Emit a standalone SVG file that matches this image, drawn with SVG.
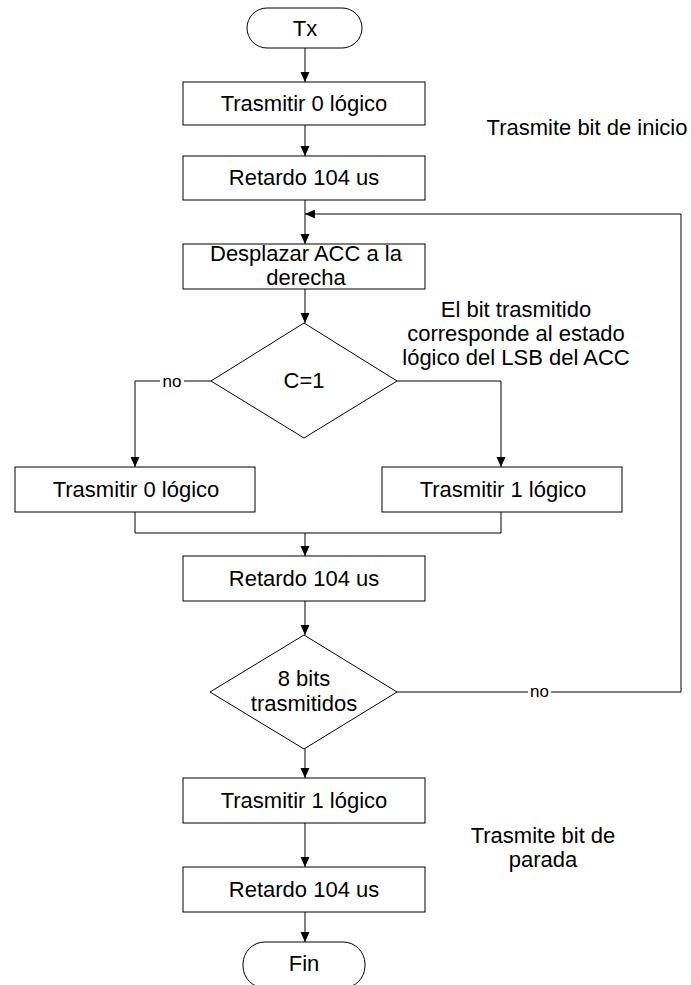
<svg xmlns="http://www.w3.org/2000/svg" width="691" height="985" viewBox="0 0 691 985">
<defs>
<style>
.n{fill:#fff;stroke:#000;stroke-width:1}
.t{font-family:"Liberation Sans",Arial,sans-serif;font-size:22px;fill:#000;text-anchor:middle}
.l{font-family:"Liberation Sans",Arial,sans-serif;font-size:17px;fill:#000;text-anchor:middle}
.c{fill:none;stroke:#000;stroke-width:1}
</style>
<marker id="ah" markerWidth="10" markerHeight="10" refX="10" refY="4.5" orient="auto" markerUnits="userSpaceOnUse">
<path d="M0,0 L10,4.5 L0,9 z" fill="#000"/>
</marker>
</defs>
<rect width="691" height="985" fill="#fff"/>
<g id="connectors">
<line class="c" x1="305" y1="48" x2="305" y2="82" marker-end="url(#ah)"/>
<line class="c" x1="305" y1="125" x2="305" y2="156" marker-end="url(#ah)"/>
<line class="c" x1="305" y1="200" x2="305" y2="244" marker-end="url(#ah)"/>
<line class="c" x1="305" y1="289" x2="305" y2="323" marker-end="url(#ah)"/>
<path class="c" d="M211,381 H135 V467" marker-end="url(#ah)"/>
<path class="c" d="M397,381 H501 V467" marker-end="url(#ah)"/>
<path class="c" d="M135,512 V533 H501 V512"/>
<line class="c" x1="305" y1="533" x2="305" y2="556" marker-end="url(#ah)"/>
<line class="c" x1="305" y1="601" x2="305" y2="635" marker-end="url(#ah)"/>
<path class="c" d="M397,692 H681 V214 H305" marker-end="url(#ah)"/>
<line class="c" x1="305" y1="749" x2="305" y2="778" marker-end="url(#ah)"/>
<line class="c" x1="305" y1="823" x2="305" y2="867" marker-end="url(#ah)"/>
<line class="c" x1="305" y1="912" x2="305" y2="942" marker-end="url(#ah)"/>
<rect x="160" y="372" width="24" height="18" fill="#fff"/>
<text class="l" x="172" y="387">no</text>
<rect x="528" y="683" width="23" height="18" fill="#fff"/>
<text class="l" x="539.5" y="697">no</text>
</g>
<g id="tx"><rect class="n" x="247" y="8" width="115" height="40" rx="20"/><text class="t" x="305" y="36">Tx</text></g>
<g id="b1"><rect class="n" x="183" y="82" width="242" height="43"/><text class="t" x="304" y="111">Trasmitir 0 lógico</text></g>
<g id="b2"><rect class="n" x="183" y="156" width="242" height="44"/><text class="t" x="304" y="185">Retardo 104 us</text></g>
<g id="b3"><rect class="n" x="183" y="244" width="242" height="45"/><text class="t" x="306" y="261">Desplazar ACC a la</text><text class="t" x="306" y="285">derecha</text></g>
<g id="d1"><polygon class="n" points="304,323 397,381 304,438 211,381"/><text class="t" x="304" y="388">C=1</text></g>
<g id="b4"><rect class="n" x="15" y="467" width="240" height="45"/><text class="t" x="136" y="497">Trasmitir 0 lógico</text></g>
<g id="b5"><rect class="n" x="382" y="467" width="240" height="45"/><text class="t" x="503" y="497">Trasmitir 1 lógico</text></g>
<g id="b6"><rect class="n" x="183" y="556" width="242" height="45"/><text class="t" x="304" y="586">Retardo 104 us</text></g>
<g id="d2"><polygon class="n" points="304,635 397,692 304,749 210,692"/><text class="t" x="304" y="686">8 bits</text><text class="t" x="304" y="711">trasmitidos</text></g>
<g id="b7"><rect class="n" x="183" y="778" width="242" height="45"/><text class="t" x="304" y="808">Trasmitir 1 lógico</text></g>
<g id="b8"><rect class="n" x="183" y="867" width="242" height="45"/><text class="t" x="304" y="897">Retardo 104 us</text></g>
<g id="fin"><rect class="n" x="243" y="942" width="122" height="46" rx="22"/><text class="t" x="304" y="971">Fin</text></g>
<g id="notes">
<text class="t" x="587" y="135">Trasmite bit de inicio</text>
<text class="t" x="516" y="317">El bit trasmitido</text>
<text class="t" x="516" y="341">corresponde al estado</text>
<text class="t" x="516" y="365">lógico del LSB del ACC</text>
<text class="t" x="543" y="843">Trasmite bit de</text>
<text class="t" x="543" y="867">parada</text>
</g>
</svg>
